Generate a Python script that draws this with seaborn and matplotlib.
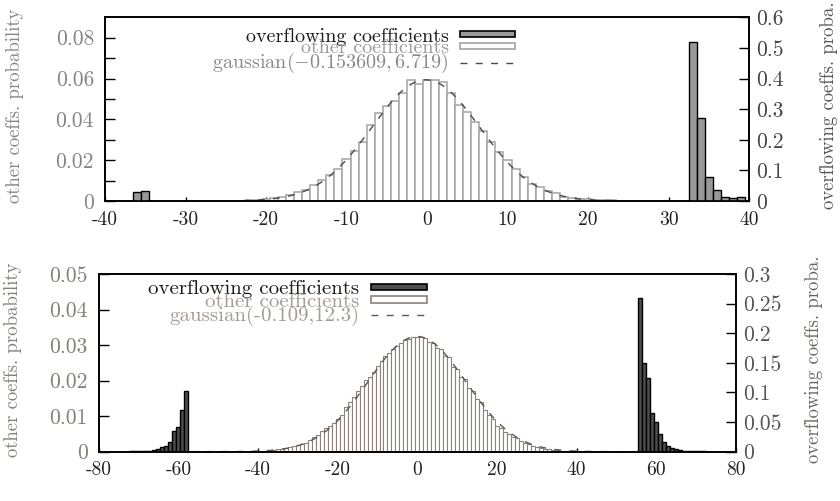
import numpy as np
import matplotlib
matplotlib.use("Agg")
import matplotlib.pyplot as plt
from matplotlib.patches import Patch
from matplotlib.lines import Line2D
import seaborn as sns

sns.set_style("ticks")
plt.rcParams['font.family'] = ['cmr10', 'DejaVu Serif']
plt.rcParams['mathtext.fontset'] = 'cm'
plt.rcParams['axes.formatter.use_mathtext'] = True
plt.rcParams['axes.unicode_minus'] = False

# ---- top panel data ----
top_other_x = list(range(-24, 26))
top_other_p = [0.0001, 0.0002, 0.0003, 0.0005, 0.0008, 0.0013, 0.0019, 0.0029, 0.0042, 0.0055,
               0.0076, 0.0102, 0.0127, 0.0156, 0.0205, 0.0247, 0.0290, 0.0370, 0.0431, 0.0463,
               0.0489, 0.0529, 0.0592, 0.0575, 0.0595, 0.0594, 0.0583, 0.0529, 0.0472, 0.0434,
               0.0388, 0.0345, 0.0288, 0.0242, 0.0201, 0.0157, 0.0119, 0.0082, 0.0067, 0.0051,
               0.0038, 0.0021, 0.0016, 0.0011, 0.0008, 0.0006, 0.0005, 0.0003, 0.0002, 0.0001]
top_over_x = [-36, -35, 33, 34, 35, 36, 37, 38, 39]
top_over_p = [0.028, 0.033, 0.52, 0.27, 0.077, 0.037, 0.014, 0.009, 0.014]
top_mu, top_sigma = -0.153609, 6.719

# ---- bottom panel data ----
bot_other_x = list(range(-40, 41))
bot_other_p = [0.0001, 0.0001, 0.0002, 0.0003, 0.0005, 0.0007, 0.0009, 0.0011, 0.0013, 0.0016,
               0.0018, 0.0021, 0.0025, 0.0033, 0.0040, 0.0047, 0.0059, 0.0066, 0.0073, 0.0080,
               0.0092, 0.0103, 0.0127, 0.0140, 0.0155, 0.0172, 0.0185, 0.0202, 0.0211, 0.0225,
               0.0241, 0.0254, 0.0268, 0.0279, 0.0288, 0.0298, 0.0307, 0.0315, 0.0318, 0.0322,
               0.0324, 0.0322, 0.0319, 0.0310, 0.0307, 0.0291, 0.0288, 0.0268, 0.0266, 0.0239,
               0.0233, 0.0209, 0.0204, 0.0178, 0.0172, 0.0147, 0.0141, 0.0117, 0.0103, 0.0092,
               0.0072, 0.0066, 0.0056, 0.0050, 0.0040, 0.0038, 0.0031, 0.0025, 0.0021, 0.0017,
               0.0014, 0.0011, 0.0009, 0.0007, 0.0006, 0.0005, 0.0003, 0.0002, 0.0002, 0.0001, 0.0001]
bot_over_x = list(range(-72, -57)) + list(range(56, 73))
bot_over_p = [0.0005, 0.0005, 0.0006, 0.0008, 0.0010, 0.0015, 0.0030, 0.0050, 0.0073, 0.0096,
              0.0170, 0.0350, 0.0410, 0.0700, 0.1030,
              0.2600, 0.1490, 0.1240, 0.0660, 0.0495, 0.0300, 0.0158, 0.0096, 0.0062, 0.0040,
              0.0030, 0.0020, 0.0015, 0.0010, 0.0010, 0.0008, 0.0006]
bot_mu, bot_sigma = -0.109, 12.3

labels_top = ["overflowing coefficients", "other coefficients",
              r"gaussian$(-0.153609, 6.719)$"]
labels_bot = ["overflowing coefficients", "other coefficients", "gaussian(-0.109,12.3)"]

DASH = (0, (5, 6))


def panel(ax, other_x, other_p, over_x, over_p, mu, sigma, xlim, xticks,
          ylim, yticks, yminor, y2lim, y2ticks, st, labels, leg_anchor):
    ax2 = ax.twinx()
    sns.barplot(x=other_x, y=other_p, native_scale=True, width=1, errorbar=None,
                color="white", edgecolor=st["other_ec"], linewidth=st["other_lw"],
                saturation=1, ax=ax)
    xs = np.linspace(xlim[0], xlim[1], 400)
    pdf = np.exp(-0.5 * ((xs - mu) / sigma) ** 2) / (sigma * np.sqrt(2 * np.pi))
    sns.lineplot(x=xs, y=pdf, color=st["gauss_c"], lw=1.0, dashes=False,
                 linestyle=DASH, ax=ax)
    sns.barplot(x=over_x, y=over_p, native_scale=True, width=1, errorbar=None,
                color=st["over_fc"], edgecolor="black", linewidth=1.0,
                saturation=1, ax=ax2)

    ax.set_xlim(*xlim)
    ax.set_ylim(*ylim)
    ax2.set_ylim(*y2lim)
    ax.set_xticks(xticks)
    ax.set_xticklabels([str(t) for t in xticks])
    ax.set_yticks(yticks)
    ax.set_yticklabels([f"{v:g}" for v in yticks])
    ax.set_yticks(yminor, minor=True)
    ax2.set_yticks(y2ticks)
    ax2.set_yticklabels([f"{v:g}" for v in y2ticks])

    ax.tick_params(axis="x", direction="in", length=3, width=1, top=False,
                   labelsize=14, labelcolor="#222222", pad=7, color="black")
    ax.tick_params(axis="y", which="both", direction="in", length=7, width=1,
                   right=False, labelsize=15.5, labelcolor=st["left_c"], pad=8, color="black")
    ax2.tick_params(axis="y", direction="in", length=7, width=1, left=False,
                    labelsize=15.5, labelcolor=st["right_c"], pad=5, color="black")
    ax2.tick_params(axis="x", top=False, bottom=False)

    for a in (ax, ax2):
        for s in a.spines.values():
            s.set_color("black")
            s.set_linewidth(1.2)
    ax.set_xlabel("")
    ax.set_ylabel("other coeffs. probability", fontsize=13.5, color=st["left_c"])
    ax2.set_ylabel("overflowing coeffs. proba.", fontsize=13.5, color=st["right_lab_c"],
                   rotation=90)
    ax.yaxis.set_label_coords(st["ylab_l"], 0.52)
    ax2.yaxis.set_label_coords(st["ylab_r"], 0.52)

    handles = [Patch(facecolor=st["over_fc"], edgecolor="black", linewidth=1.2),
               Patch(facecolor="white", edgecolor=st["other_ec"], linewidth=1.2),
               Line2D([], [], color=st["gauss_c"], lw=1.0, linestyle=DASH)]
    leg = ax2.legend(handles, labels, loc="upper right", bbox_to_anchor=leg_anchor,
                     frameon=False, markerfirst=False, handlelength=st["hl"],
                     handleheight=0.1, labelspacing=st["ls"], handletextpad=0.55,
                     borderpad=0, borderaxespad=0, fontsize=st["leg_fs"])
    for t, c in zip(leg.get_texts(), st["leg_c"]):
        t.set_color(c)


fig = plt.figure(figsize=(8.4, 5.01), dpi=100)
ax_top = fig.add_axes([0.125, 0.5988, 0.7667, 0.3667])
ax_bot = fig.add_axes([0.1175, 0.0984, 0.7587, 0.3546])

top_style = dict(other_ec="#a3a3a6", other_lw=1.1, gauss_c="#4a4a4a", over_fc="#999999",
                 left_c="#858585", right_c="#444444", right_lab_c="#555555",
                 ylab_l=-0.125, ylab_r=1.11, leg_fs=14.5, hl=2.75, ls=-0.31,
                 leg_c=["#1a1a1a", "#9a9a9a", "#8a8a8a"])
bot_style = dict(other_ec="#8a817c", other_lw=0.8, gauss_c="#5e5652", over_fc="#4d4d4d",
                 left_c="#867e79", right_c="#555555", right_lab_c="#6a6461",
                 ylab_l=-0.12, ylab_r=1.108, leg_fs=15, hl=2.7, ls=-0.26,
                 leg_c=["#1a1a1a", "#a39b96", "#a39b96"])

panel(ax_top, top_other_x, top_other_p, top_over_x, top_over_p, top_mu, top_sigma,
      (-40, 40), list(range(-40, 41, 10)),
      (0, 0.09), [0, 0.02, 0.04, 0.06, 0.08], [0.01, 0.03, 0.05, 0.07],
      (0, 0.6), [0, 0.1, 0.2, 0.3, 0.4, 0.5, 0.6],
      top_style, labels_top, (0.637, 0.944))
panel(ax_bot, bot_other_x, bot_other_p, bot_over_x, bot_over_p, bot_mu, bot_sigma,
      (-80, 80), list(range(-80, 81, 20)),
      (0, 0.05), [0, 0.01, 0.02, 0.03, 0.04, 0.05], [],
      (0, 0.3), [0, 0.05, 0.1, 0.15, 0.2, 0.25, 0.3],
      bot_style, labels_bot, (0.515, 0.964))

fig.savefig("out.png", dpi=100)
